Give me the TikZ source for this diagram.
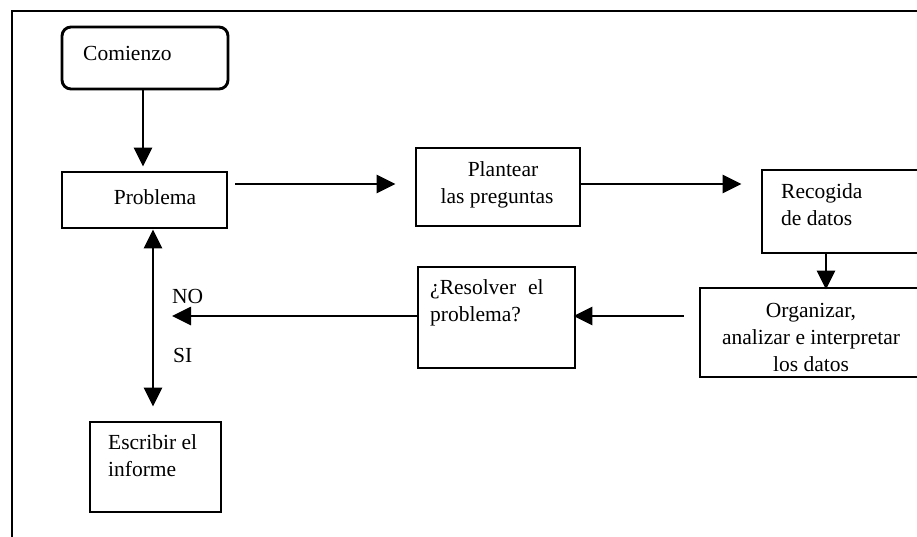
\documentclass[tikz,border=0pt]{standalone}
\usepackage{fontspec}
\setmainfont{Liberation Serif}
\usetikzlibrary{arrows.meta}
\begin{document}
\begin{tikzpicture}[x=1pt,y=-1pt,
  box/.style={draw, line width=2.9pt, inner sep=0pt},
  txt/.style={inner sep=0pt, font=\fontsize{21.5}{27}\selectfont},
  arr/.style={line width=2.7pt, -{Triangle[length=19pt,width=18pt]}},
  darr/.style={line width=2.7pt, {Triangle[length=19pt,width=18pt]}-{Triangle[length=19pt,width=18pt]}}]
\useasboundingbox (0,0) rectangle (917,537);
\clip (0,0) rectangle (917,537);
% frame
\draw[line width=2.4pt] (12,545) -- (12,11) -- (925,11);
% boxes
\node[box, rounded corners=9pt, minimum width=166pt, minimum height=62pt] (com) at (145,58) {};
\node[box, minimum width=165pt, minimum height=56pt] (prob) at (144.5,200) {};
\node[box, minimum width=164pt, minimum height=78pt] (plan) at (498,187) {};
\node[box, minimum width=166pt, minimum height=83pt] (rec) at (845,211.5) {};
\node[box, minimum width=230pt, minimum height=89pt] (org) at (815,332.5) {};
\node[box, minimum width=157pt, minimum height=101pt] (res) at (496.5,317.5) {};
\node[box, minimum width=131pt, minimum height=90pt] (esc) at (155.5,467) {};
% texts
\node[txt, anchor=west] (tcom) at (83,53) {Comienzo};
\node[txt] (tprob) at (155,197) {Problema};
\node[txt, align=center] (tplan) at (497,185) {\hspace*{12pt}Plantear\\las preguntas};
\node[txt, align=left, anchor=west] (trec) at (781,205) {Recogida\\de datos};
\node[txt, align=center] (torg) at (811,337) {Organizar,\\analizar e interpretar\\los datos};
\node[txt, align=left, anchor=west] (tres) at (430,303) {¿Resolver\hspace{12pt}el\\problema?};
\node[txt, align=left, anchor=west] (tesc) at (108,456) {Escribir el\\informe};
\node[txt, anchor=west] (tno) at (172,296) {NO};
\node[txt, anchor=west] (tsi) at (173,355) {SI};
% connectors
\coordinate (nopt) at (172,316);
\draw[arr, shorten >=4pt] (com.south -| 143,0) -- (prob.north -| 143,0);
\draw[arr, shorten <=7pt, shorten >=19pt] (prob.east |- 0,184) -- (plan.west |- 0,184);
\draw[arr, shorten >=19pt] (plan.east |- 0,184) -- (rec.west |- 0,184);
\draw[arr, shorten >=-3pt] (rec.south -| 826,0) -- (org.north -| 826,0);
\draw[arr, shorten <=15pt, shorten >=-3pt] (org.west |- 0,316) -- (res.east |- 0,316);
\draw[arr] (res.west |- 0,316) -- (nopt);
\draw[darr, shorten >=14pt] (prob.south -| 153,0) -- (esc.north -| 153,0);
\end{tikzpicture}
\end{document}
